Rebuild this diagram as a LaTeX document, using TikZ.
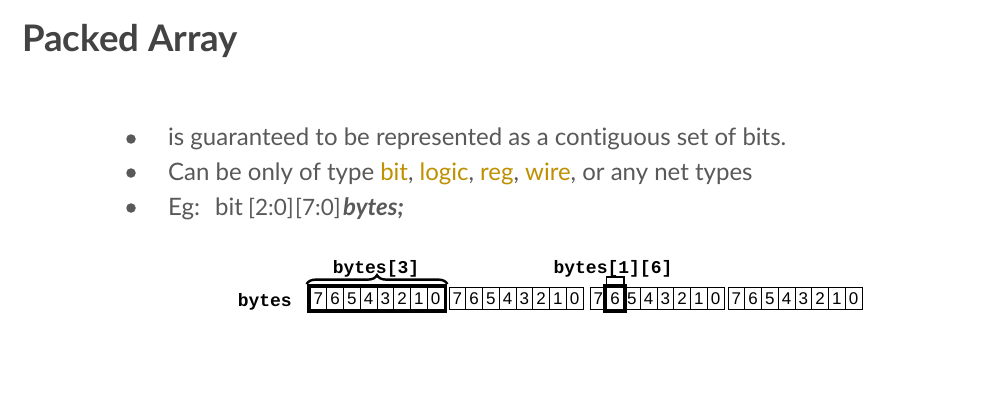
\documentclass[tikz,border=0pt]{standalone}
\usepackage{fontspec}
\setmainfont[Ligatures={NoCommon}]{Lato}
\setmonofont{Liberation Mono}
\newfontfamily\arialf{Liberation Sans}
\usetikzlibrary{decorations.pathreplacing,fit,calc}
\definecolor{titlegray}{HTML}{434343}
\definecolor{textgray}{HTML}{595959}
\definecolor{gold}{HTML}{BF9000}
\begin{document}
\begin{tikzpicture}[x=1pt,y=-1pt,
  titlestyle/.style={inner sep=0pt,anchor=base west,text=titlegray,font=\fontsize{36.6}{44}\selectfont\bfseries},
  txt/.style={inner sep=0pt,anchor=base west,text=textgray,font=\fontsize{24}{28}\selectfont},
  txtsm/.style={txt,font=\fontsize{22.5}{28}\selectfont},
  bulletdot/.style={circle,fill=textgray,inner sep=0pt,minimum size=9.5pt},
  cell/.style={draw=black,line width=0.8pt,minimum width=16.75pt,minimum height=22pt,inner sep=0pt,font=\arialf\fontsize{17}{17}\selectfont},
  thickbox/.style={draw=black,line width=3pt,inner sep=1.5pt},
  monolbl/.style={inner sep=0pt,font=\ttfamily\bfseries\fontsize{18}{18}\selectfont},
]
\useasboundingbox[fill=white] (0,0) rectangle (984,409);
\node[titlestyle] (title) at (22,52) {Packed Array};

\node[bulletdot] (b1) at (131,139) {};
\node[bulletdot] (b2) at (131,173) {};
\node[bulletdot] (b3) at (131,208) {};

\node[txt] (t1) at (168,145) {is guaranteed to be represented as a contiguous set of bits.};
\node[txt] (t2) at (168,180) {Can be only of type \textcolor{gold}{bit}, \textcolor{gold}{logic}, \textcolor{gold}{reg}, \textcolor{gold}{wire}, or any net types};
\node[txt] (t3a) at (168,215) {Eg:};
\node[txt] (t3b) at (215,215) {bit};
\node[txtsm] (t3c) at (248,215) {[2:0]};
\node[txtsm] (t3d) at (295,215) {[7:0]};
\node[txt] (t3e) at (343,215) {\bfseries\itshape bytes;};

\foreach \g/\gx in {1/310,2/449,3/590,4/728}{
  \foreach \i in {0,...,7}{
    \pgfmathtruncatemacro{\d}{7-\i}
    \node[cell] (c\g-\d) at ({\gx+\i*16.75+8.375},298.5) {\d};
  }
}

\node[monolbl,anchor=base east] (lbytes) at (292,306) {bytes};

\node[thickbox,fit=(c1-7)(c1-0)] (tb1) {};
\node[thickbox,fit=(c3-6)] (tb2) {};

\draw[decorate,decoration={brace,amplitude=9pt},line width=2.4pt] (tb1.north west) -- (tb1.north east);
\node[monolbl,anchor=base] (l3) at (376,273) {bytes[3]};

\node[monolbl,anchor=base] (l16) at (613,273) {bytes[1][6]};
\coordinate (brl) at ($(tb2.north west)+(3,0)$);
\coordinate (brr) at ($(tb2.north east)+(-3,0)$);
\draw[line width=1.4pt] (brl) -- ++(0,-7) -| (brr);
\draw[line width=1.4pt] ($(tb2.north)+(0,-7)$) -- (l16.south -| tb2.north);
\end{tikzpicture}
\end{document}
